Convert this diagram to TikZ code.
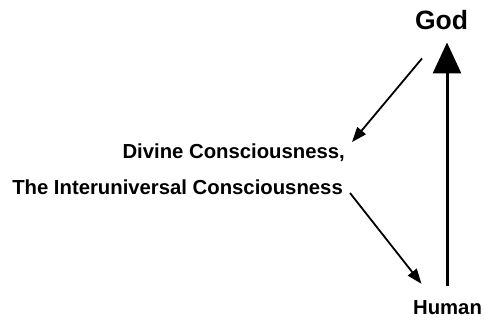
\documentclass[tikz,border=0pt]{standalone}
\usepackage{fontspec}
\setmainfont{Liberation Sans}
\usetikzlibrary{arrows.meta}

\tikzset{
  lbl/.style={inner sep=0pt, font=\bfseries\fontsize{20.3}{24}\selectfont},
  thinarrow/.style={line width=1.8pt, -{Triangle[length=15pt, width=11pt]}},
  thickarrow/.style={line width=3pt, -{Triangle[length=31pt, width=28pt]}}
}

\begin{document}
\begin{tikzpicture}[x=1pt, y=-1pt]
  \useasboundingbox (0,0) rectangle (484,320);

  % Nodes
  \node[lbl, anchor=base, font=\bfseries\fontsize{26.5}{30}\selectfont] (god) at (441.5,30) {God};
  \node[lbl, anchor=base east] (divine) at (345,159) {Divine Consciousness,};
  \node[lbl, anchor=base east] (inter) at (343,195) {The Interuniversal Consciousness};
  \node[lbl, anchor=base] (human) at (447.5,314) {Human};

  % Arrows
  \draw[thinarrow] ([shift={(-19.5,28)}]god.south) -- ([shift={(7,-2)}]divine.north east);
  \draw[thinarrow] ([shift={(7,-2)}]inter.base east) -- ([shift={(-26,-16)}]human.north);
  \draw[thickarrow] ([shift={(-0.5,-14)}]human.north) -- ([shift={(5.5,12)}]god.south);
\end{tikzpicture}
\end{document}
